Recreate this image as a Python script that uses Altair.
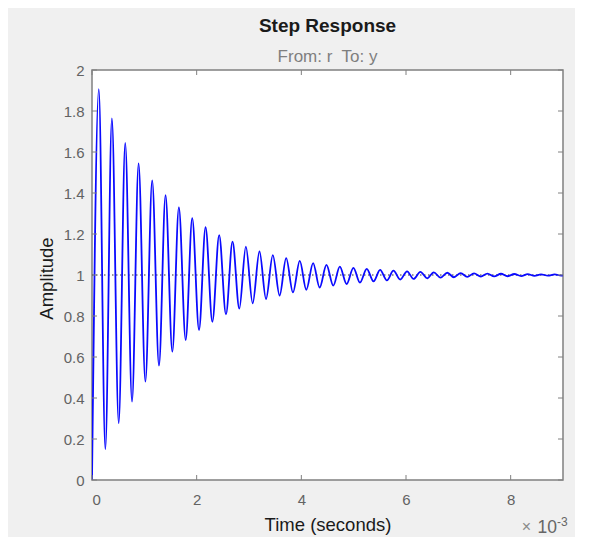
import altair as alt
import pandas as pd

# Values (time in ms, i.e. x 10^-3 s)
start_t = [0.0]
start_y = [0.0]
peak_t = [0.13, 0.38, 0.635, 0.89, 1.15, 1.405, 1.66, 1.915, 2.17, 2.43, 2.685, 2.94,
          3.2, 3.455, 3.71, 3.97, 4.225, 4.48, 4.735, 4.995, 5.25, 5.505, 5.76, 6.02,
          6.275, 6.53, 6.79, 7.045, 7.3, 7.555, 7.815, 8.07, 8.325, 8.58, 8.84]
peak_y = [1.906, 1.764, 1.645, 1.545, 1.462, 1.39, 1.33, 1.277, 1.233, 1.195, 1.163, 1.138,
          1.115, 1.097, 1.082, 1.069, 1.058, 1.049, 1.041, 1.035, 1.030, 1.025, 1.021, 1.018,
          1.015, 1.013, 1.011, 1.009, 1.008, 1.007, 1.006, 1.005, 1.004, 1.0035, 1.003]
trough_t = [0.255, 0.51, 0.765, 1.02, 1.28, 1.535, 1.79, 2.045, 2.3, 2.56, 2.815, 3.07,
            3.325, 3.585, 3.84, 4.095, 4.35, 4.61, 4.865, 5.12, 5.38, 5.635, 5.89, 6.145,
            6.405, 6.66, 6.915, 7.17, 7.43, 7.685, 7.94, 8.2, 8.455, 8.71, 8.965]
trough_y = [0.15, 0.277, 0.382, 0.48, 0.558, 0.626, 0.683, 0.732, 0.772, 0.808, 0.836, 0.862,
            0.883, 0.9, 0.915, 0.928, 0.939, 0.948, 0.956, 0.963, 0.969, 0.974, 0.978, 0.981,
            0.984, 0.987, 0.989, 0.991, 0.992, 0.993, 0.994, 0.995, 0.996, 0.9965, 0.997]
end_t = [9.0]
end_y = [0.998]

steady_t = [0.0, 9.0]
steady_y = [1.0, 1.0]

x_ticks = [0, 2, 4, 6, 8]
y_ticks = [0, 0.2, 0.4, 0.6, 0.8, 1.0, 1.2, 1.4, 1.6, 1.8, 2.0]

rows = list(zip(start_t, start_y))
for pt, py, tt, ty in zip(peak_t, peak_y, trough_t, trough_y):
    rows.append((pt, py))
    rows.append((tt, ty))
rows += list(zip(end_t, end_y))
resp = pd.DataFrame(rows, columns=["t", "y"])
steady = pd.DataFrame({"t": steady_t, "y": steady_y})
xt = pd.DataFrame({"t": x_ticks})
yt = pd.DataFrame({"y": y_ticks})

W, H = 471, 410
FONT = "Liberation Sans"
FRAME = "#808080"
LABEL = "#636363"

xscale = alt.Scale(domain=[0, 9], nice=False, zero=False)
yscale = alt.Scale(domain=[0, 2], nice=False)

xaxis = alt.Axis(values=x_ticks, ticks=False, domain=False, grid=False,
                 labelFont=FONT, labelFontSize=15, labelColor=LABEL, labelPadding=12,
                 title="Time (seconds)", titleFont=FONT, titleFontSize=18.5,
                 titleFontWeight="normal", titleColor="#1a1a1a",
                 titleX=W / 2, titleY=44, titleBaseline="middle", titleAlign="center")
yaxis = alt.Axis(values=y_ticks, format=".1~f", ticks=False, domain=False, grid=False,
                 labelFont=FONT, labelFontSize=15, labelColor=LABEL, labelPadding=8,
                 title="Amplitude", titleFont=FONT, titleFontSize=18.5,
                 titleFontWeight="normal", titleColor="#1a1a1a",
                 titleX=-46, titleY=H / 2 + 3, titleBaseline="middle", titleAlign="center",
                 titleAngle=270)

steady_line = alt.Chart(steady).mark_line(
    color="#333333", strokeWidth=1, strokeDash=[1.5, 2.5]
).encode(x=alt.X("t:Q", scale=xscale, axis=xaxis), y=alt.Y("y:Q", scale=yscale, axis=yaxis))

resp_line = alt.Chart(resp).mark_line(
    color="#0a0aff", strokeWidth=1.8, interpolate="monotone", clip=True
).encode(x=alt.X("t:Q", scale=xscale), y=alt.Y("y:Q", scale=yscale))

tick_len = 5
bottom_ticks = alt.Chart(xt).mark_rule(color=FRAME, strokeWidth=1).encode(
    x=alt.X("t:Q", scale=xscale), y=alt.value(H), y2=alt.value(H - tick_len))
top_ticks = alt.Chart(xt).mark_rule(color=FRAME, strokeWidth=1).encode(
    x=alt.X("t:Q", scale=xscale), y=alt.value(0), y2=alt.value(tick_len))
left_ticks = alt.Chart(yt).mark_rule(color=FRAME, strokeWidth=1).encode(
    y=alt.Y("y:Q", scale=yscale), x=alt.value(0), x2=alt.value(tick_len))
right_ticks = alt.Chart(yt).mark_rule(color=FRAME, strokeWidth=1).encode(
    y=alt.Y("y:Q", scale=yscale), x=alt.value(W), x2=alt.value(W - tick_len))

exp_times = alt.Chart(pd.DataFrame({"s": ["×"]})).mark_text(
    font=FONT, fontSize=16, color="#8a8a8a", align="right", baseline="alphabetic"
).encode(text="s:N", x=alt.value(439), y=alt.value(462))
exp_ten = alt.Chart(pd.DataFrame({"s": ["10"]})).mark_text(
    font=FONT, fontSize=17.5, color="#666666", align="right", baseline="alphabetic"
).encode(text="s:N", x=alt.value(465), y=alt.value(463))
exp_pow = alt.Chart(pd.DataFrame({"s": ["-3"]})).mark_text(
    font=FONT, fontSize=12, color="#666666", align="left", baseline="alphabetic"
).encode(text="s:N", x=alt.value(465), y=alt.value(456))

chart = alt.layer(
    steady_line, resp_line, bottom_ticks, top_ticks, left_ticks, right_ticks,
    exp_times, exp_ten, exp_pow
).properties(
    width=W, height=H,
    title=alt.TitleParams(
        text="Step Response", subtitle="From: r\u00a0 To: y",
        font=FONT, fontSize=19, fontWeight="bold", color="#1a1a1a",
        subtitleFont=FONT, subtitleFontSize=17, subtitleColor="#7f7f7f",
        subtitlePadding=13, offset=-2, anchor="middle"
    ),
    autosize=alt.AutoSizeParams(type="none"),
    padding={"left": 84, "top": 62, "right": 12, "bottom": 57},
).configure(background="#f0f0f0").configure_view(
    fill="white", stroke=FRAME, strokeWidth=1.5
)

chart.save("out.html", embed_options={"renderer": "svg", "actions": False})
